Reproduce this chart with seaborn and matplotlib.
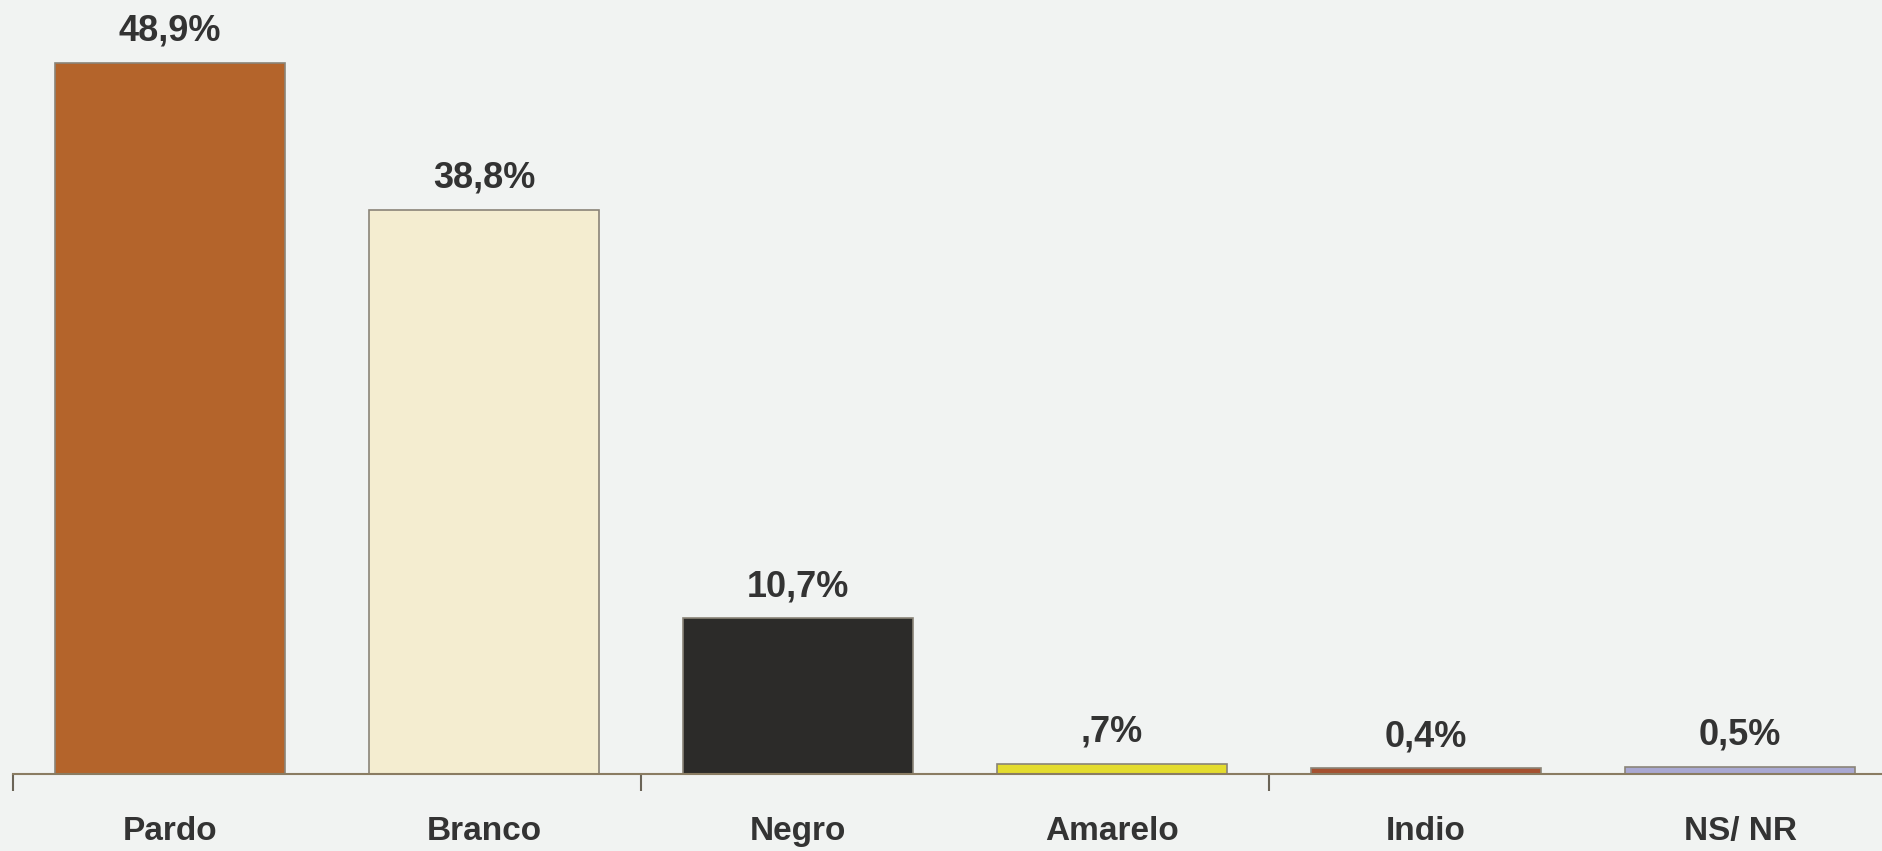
import matplotlib
matplotlib.use('Agg')
import matplotlib.pyplot as plt
import seaborn as sns
import pandas as pd

# Dados do gráfico
categorias = ['Pardo', 'Branco', 'Negro', 'Amarelo', 'Indio', 'NS/ NR']
valores = [48.9, 38.8, 10.7, 0.7, 0.4, 0.5]
rotulos = ['48,9%', '38,8%', '10,7%', ',7%', '0,4%', '0,5%']
cores = ['#B4642B', '#F4EDD0', '#2C2B29', '#E4DC2E', '#A5502F', '#A9A8D2']

df = pd.DataFrame({'categoria': categorias, 'valor': valores})

sns.set_style('white')
plt.rcParams['font.family'] = ['Liberation Sans', 'DejaVu Sans']

fig = plt.figure(figsize=(18.82, 8.51), dpi=100)
fig.patch.set_facecolor('#F1F3F2')
ax = fig.add_axes([13 / 1882, 77 / 851, 1884 / 1882, 774 / 851])
ax.set_facecolor('#F1F3F2')

sns.barplot(data=df, x='categoria', y='valor', hue='categoria', palette=cores,
            legend=False, width=0.73, edgecolor='#8a8478', linewidth=1.2,
            saturation=1, ax=ax)

# Rótulos de valor acima das barras
for cont, rot in zip(ax.containers, rotulos):
    ax.bar_label(cont, labels=[rot], padding=10, fontsize=26,
                 fontweight='bold', color='#333333')

ax.set_xlim(-0.5, 5.5)
ax.set_ylim(0, 53.2)

# Eixo x: marcas a cada dois grupos, nomes centrados nas barras
ax.set_xticks([-0.5, 1.5, 3.5, 5.5])
ax.set_xticklabels([])
ax.set_xticks(range(len(categorias)), minor=True)
ax.set_xticklabels(categorias, minor=True, fontsize=24, fontweight='bold',
                   color='#333333')
ax.tick_params(axis='x', which='major', direction='out', length=12,
               width=1.5, color='#6b6457', bottom=True)
ax.tick_params(axis='x', which='minor', length=0, pad=30)
ax.set_yticks([])
ax.set_xlabel('')
ax.set_ylabel('')

for lado in ['top', 'right', 'left']:
    ax.spines[lado].set_visible(False)
ax.spines['bottom'].set_color('#8a7c62')
ax.spines['bottom'].set_linewidth(1.5)

fig.savefig('out.png', dpi=100, facecolor=fig.get_facecolor())
